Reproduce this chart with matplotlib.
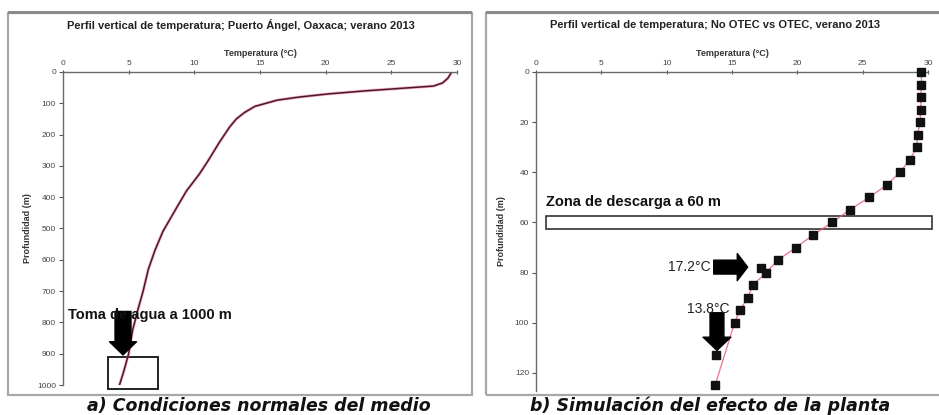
import matplotlib
matplotlib.use("Agg")
import matplotlib.pyplot as plt
from matplotlib.patches import Rectangle

plt.rcParams['font.family'] = ['Liberation Sans', 'DejaVu Sans']

# --- Panel a: natural temperature profile, Puerto Ángel ---
depth_a = [0, 20, 35, 45, 50, 60, 70, 80, 90, 110, 130, 150, 175, 225, 280,
           325, 380, 430, 510, 570, 630, 700, 760, 825, 900, 960, 1000]
temp_a = [29.6, 29.3, 28.9, 28.2, 26.5, 23.1, 20.2, 18.0, 16.3, 14.6, 13.8,
          13.2, 12.7, 11.9, 11.1, 10.4, 9.4, 8.7, 7.6, 7.0, 6.5, 6.1, 5.7,
          5.3, 5.0, 4.6, 4.3]
ticks_a_x = [0, 5, 10, 15, 20, 25, 30]
ticks_a_y = [0, 100, 200, 300, 400, 500, 600, 700, 800, 900, 1000]

# --- Panel b: No OTEC profile (line) vs OTEC simulation (markers) ---
depth_base = [0, 5, 10, 15, 20, 25, 30, 35, 40, 45, 50, 55, 60, 65, 70, 75,
              80, 85, 90, 95, 100, 125]
temp_base = [29.5, 29.5, 29.45, 29.45, 29.4, 29.2, 29.15, 28.6, 27.85, 26.85,
             25.5, 24.0, 22.65, 21.2, 19.9, 18.5, 17.6, 16.6, 16.2, 15.6,
             15.2, 13.7]
depth_otec = [0, 5, 10, 15, 20, 25, 30, 35, 40, 45, 50, 55, 60, 65, 70, 75,
              78, 80, 85, 90, 95, 100, 113, 125]
temp_otec = [29.5, 29.5, 29.45, 29.45, 29.4, 29.2, 29.15, 28.6, 27.85, 26.85,
             25.5, 24.0, 22.65, 21.2, 19.9, 18.5, 17.2, 17.6, 16.6, 16.2,
             15.6, 15.2, 13.8, 13.7]
ticks_b_x = [0, 5, 10, 15, 20, 25, 30]
ticks_b_y = [0, 20, 40, 60, 80, 100, 120]

intake_depth = 1000
discharge_depth = 60
t_warm = 17.2
t_cold = 13.8

W, H = 939, 415
fig = plt.figure(figsize=(W / 100, H / 100), dpi=100)
fig.patch.set_facecolor('white')


def fx(px):
    return px / W


def fy(py):
    return 1 - py / H


# panel frames (chart areas)
for x0, x1 in [(8, 472), (486, 945)]:
    fig.patches.append(Rectangle((fx(x0), fy(395)), fx(x1 - x0), fy(13) - fy(395),
                                 transform=fig.transFigure, fill=False,
                                 edgecolor='#a8a8a8', lw=1.6))
    fig.patches.append(Rectangle((fx(x0), fy(14.5)), fx(x1 - x0), 3 / H,
                                 transform=fig.transFigure, facecolor='#8a8a8a',
                                 edgecolor='none'))

title_kw = dict(fontsize=8, fontweight='bold', color='#222222', ha='center', va='center')
lab_kw = dict(fontsize=6.5, fontweight='bold', color='#333333')


def style_axes(ax, xt, yt):
    for s in ['right', 'bottom']:
        ax.spines[s].set_visible(False)
    for s in ['left', 'top']:
        ax.spines[s].set_color('#6a6a6a')
        ax.spines[s].set_linewidth(1.0)
    ax.xaxis.tick_top()
    ax.xaxis.set_label_position('top')
    ax.set_xticks(xt)
    ax.set_yticks(yt)
    ax.tick_params(axis='both', labelsize=6, colors='#555555', length=3, width=0.8,
                   labelcolor='#444444', pad=2)
    ax.tick_params(axis='x', direction='inout')
    ax.set_facecolor('none')


# ---------- panel a ----------
axa = fig.add_axes([fx(63), fy(385), fx(457 - 63), fy(72) - fy(385)])
axa.plot(temp_a, depth_a, color='#e85a7a', lw=2.2, alpha=0.45, solid_joinstyle='round')
axa.plot(temp_a, depth_a, color='#4a1828', lw=1.1, solid_joinstyle='round')
axa.set_xlim(0, 30)
axa.set_ylim(1000, 0)
style_axes(axa, ticks_a_x, ticks_a_y)
axa.set_xlabel('Temperatura (°C)', labelpad=3, **lab_kw)
axa.set_ylabel('Profundidad (m)', labelpad=4, **lab_kw)

axa.add_patch(Rectangle((3.4, 910), 7.2 - 3.4, 1013 - 910, fill=False,
                        edgecolor='#111111', lw=1.3, clip_on=False))
axa.annotate('', xy=(4.57, 904), xytext=(4.57, 765),
             arrowprops=dict(arrowstyle='simple,head_length=0.95,head_width=1.95,tail_width=1.15',
                             mutation_scale=10, color='black', shrinkA=0, shrinkB=0))
axa.text(0.4, 775, 'Toma de agua a %d m' % intake_depth, fontsize=10.5,
         fontweight='bold', color='#111111', ha='left', va='center')

# ---------- panel b ----------
axb = fig.add_axes([fx(536), fy(390.5), fx(928 - 536), fy(72) - fy(390.5)])
axb.plot(temp_base, depth_base, color='#e8607a', lw=1.0, alpha=0.8, zorder=2)
axb.plot(temp_otec, depth_otec, linestyle='none', marker='s', ms=5.6,
         color='#111111', zorder=3, clip_on=False)
axb.set_xlim(0, 30)
axb.set_ylim(127, 0)
style_axes(axb, ticks_b_x, ticks_b_y)
axb.set_xlabel('Temperatura (°C)', labelpad=3, **lab_kw)
axb.set_ylabel('Profundidad (m)', labelpad=6, **lab_kw)

axb.add_patch(Rectangle((0.77, discharge_depth - 2.6), 30.3 - 0.77, 5.2,
                        fill=False, edgecolor='#333333', lw=1.2, clip_on=False, zorder=1))
axb.text(0.8, 52, 'Zona de descarga a %d m' % discharge_depth, fontsize=10.5,
         fontweight='bold', color='#111111', ha='left', va='center')

axb.annotate('', xy=(16.2, 77.8), xytext=(13.6, 77.8),
             arrowprops=dict(arrowstyle='simple,head_length=0.75,head_width=1.95,tail_width=1.0',
                             mutation_scale=10, color='black', shrinkA=0, shrinkB=0))
axb.text(13.4, 77.8, '%.1f°C' % t_warm, fontsize=10, color='#222222',
         ha='right', va='center')

axb.annotate('', xy=(13.85, 111), xytext=(13.85, 96),
             arrowprops=dict(arrowstyle='simple,head_length=0.95,head_width=2.0,tail_width=1.0',
                             mutation_scale=10, color='black', shrinkA=0, shrinkB=0))
axb.text(13.2, 94.5, '%.1f°C' % t_cold, fontsize=10, color='#222222',
         ha='center', va='center')

# titles and captions
fig.text(fx(241), fy(25), 'Perfil vertical de temperatura; Puerto Ángel, Oaxaca; verano 2013', **title_kw)
fig.text(fx(715), fy(25), 'Perfil vertical de temperatura; No OTEC vs OTEC, verano 2013', **title_kw)

cap_kw = dict(fontsize=12.5, fontweight='bold', fontstyle='italic', color='#111111',
              ha='center', va='center', family='DejaVu Sans')
fig.text(fx(259), fy(406), 'a) Condiciones normales del medio', **cap_kw)
fig.text(fx(710), fy(406), 'b) Simulación del efecto de la planta', **cap_kw)

fig.savefig('out.png', dpi=100, facecolor='white')
